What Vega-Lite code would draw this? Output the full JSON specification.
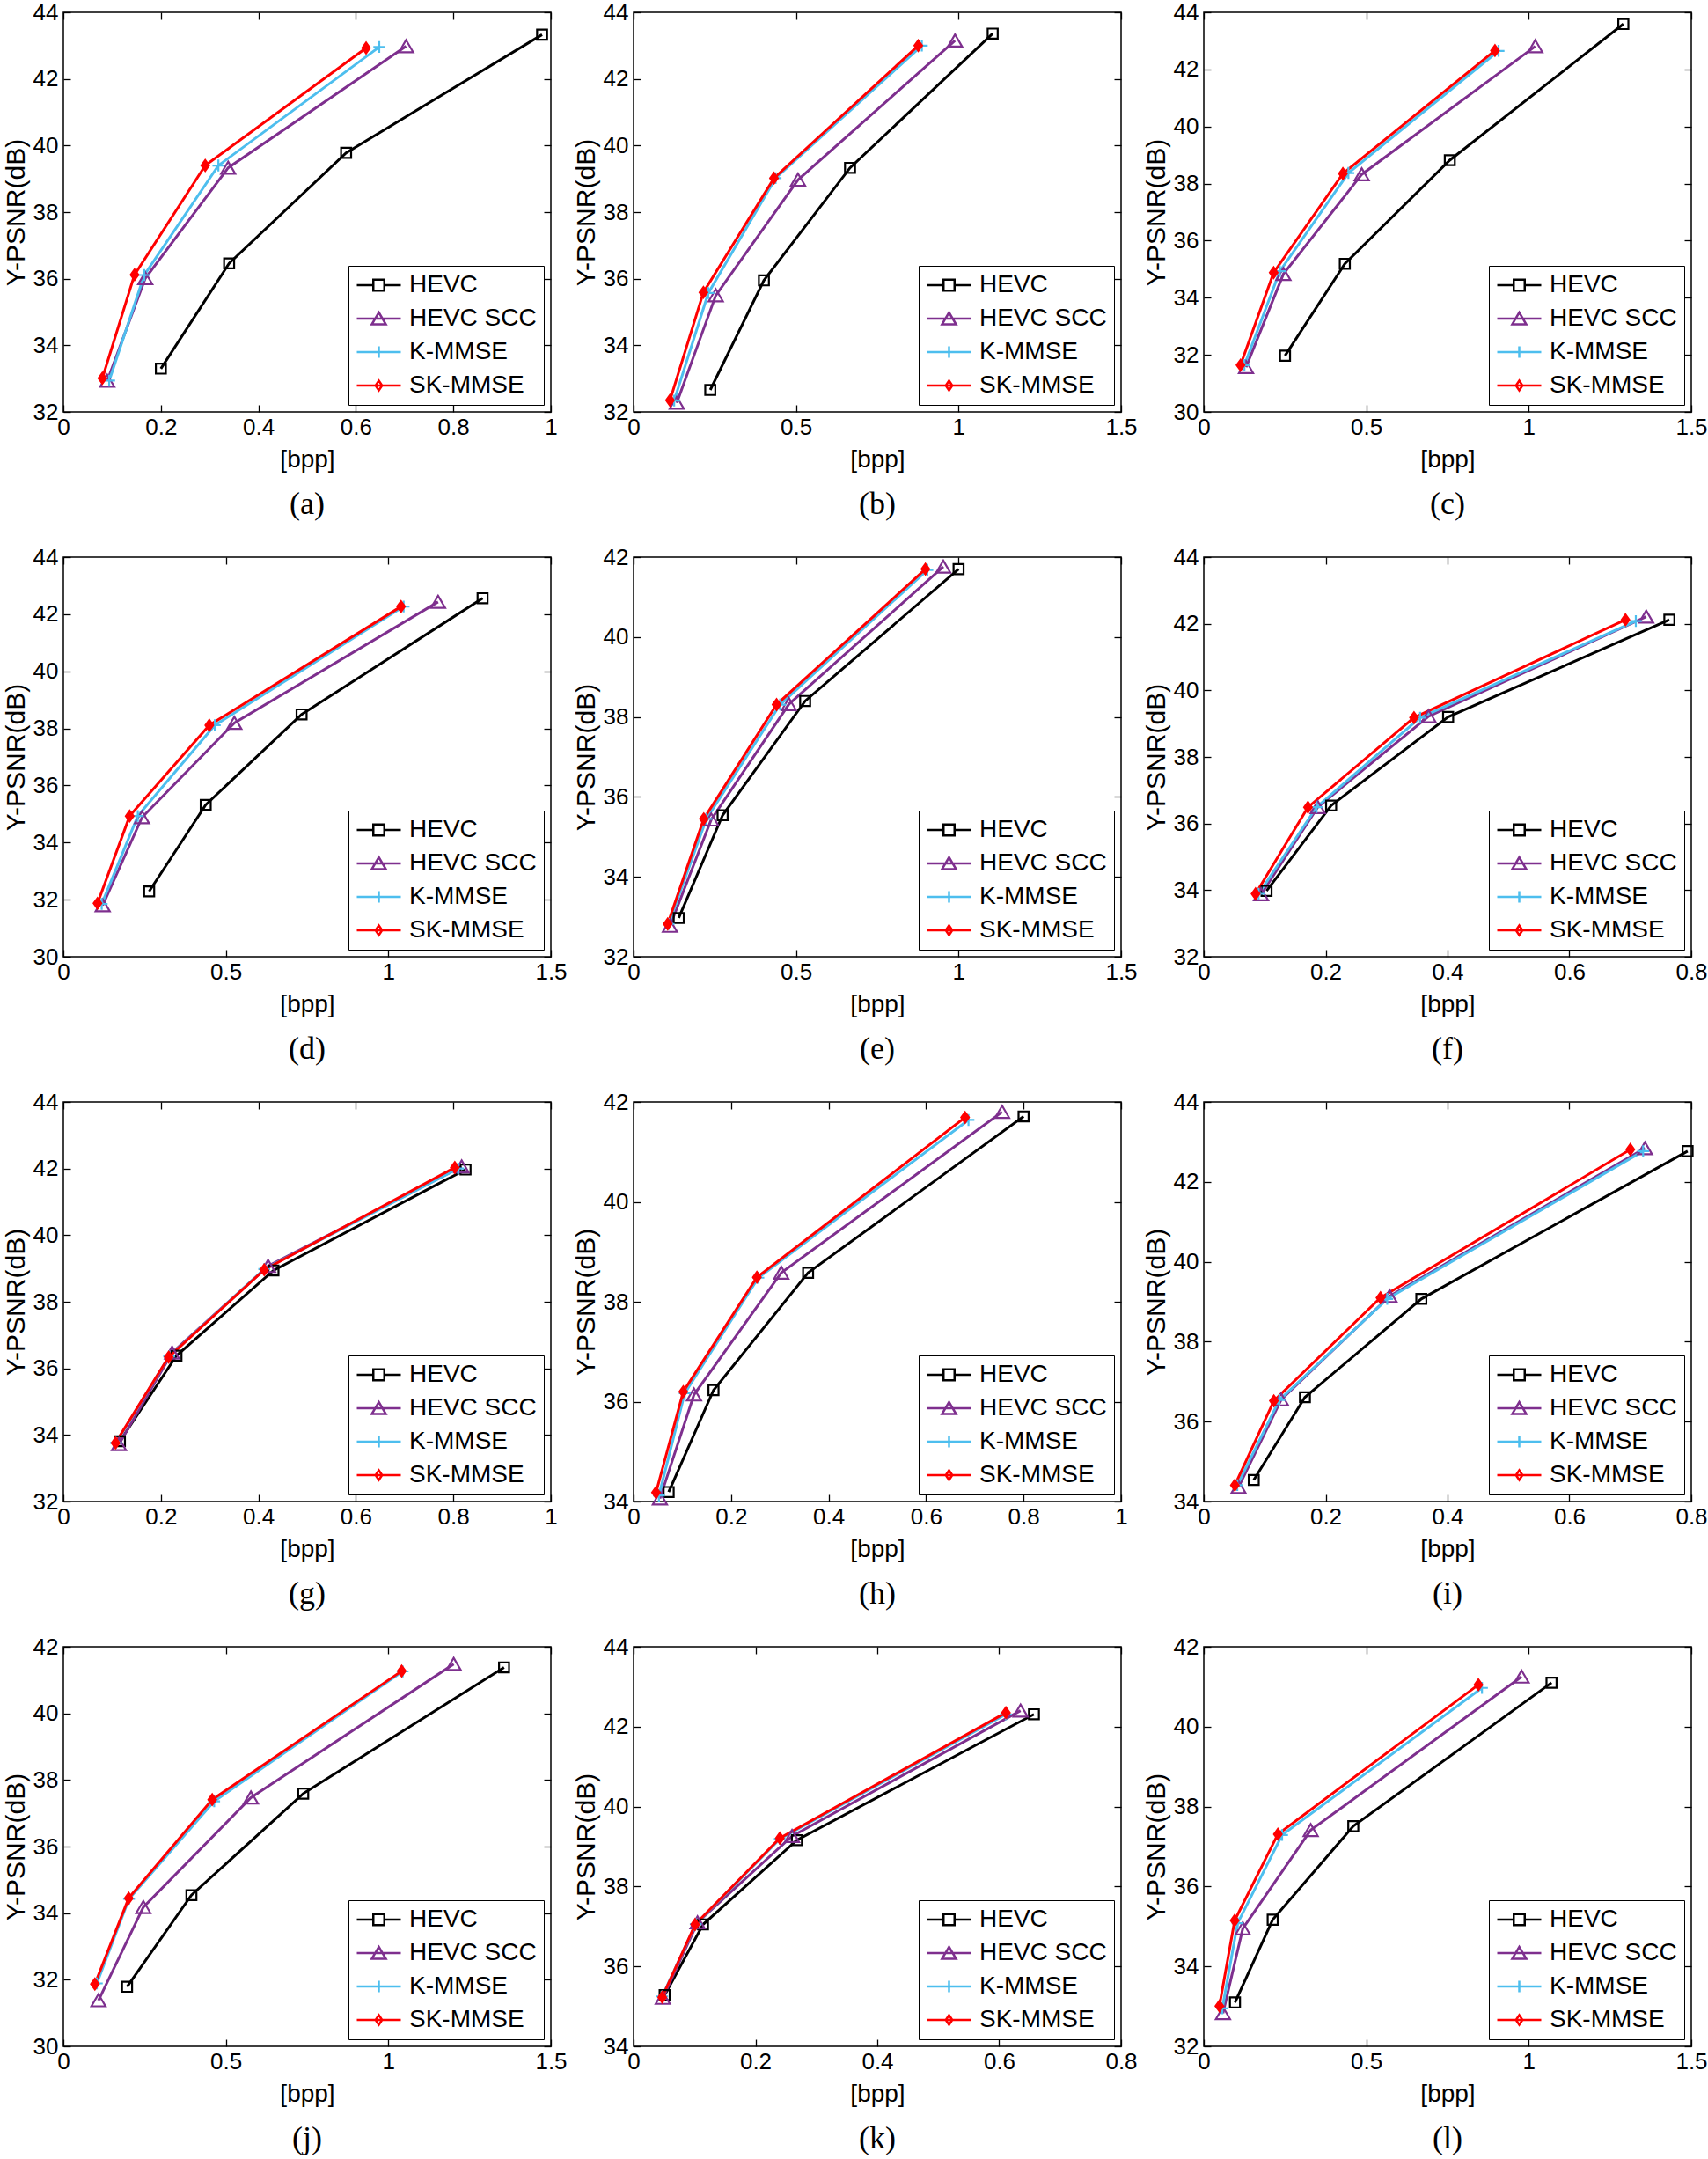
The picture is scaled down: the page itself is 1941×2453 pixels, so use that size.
{
"$schema": "https://vega.github.io/schema/vega-lite/v6.json",
"background": "white",
"padding": {"left": 2, "top": 0, "right": 0, "bottom": 0},
"datasets": {"rd": [
{"p":"a","m":"HEVC","x":0.200,"y":33.30},{"p":"a","m":"HEVC","x":0.340,"y":36.46},{"p":"a","m":"HEVC","x":0.580,"y":39.78},{"p":"a","m":"HEVC","x":0.982,"y":43.33},
{"p":"a","m":"HEVC SCC","x":0.090,"y":32.93},{"p":"a","m":"HEVC SCC","x":0.168,"y":36.01},{"p":"a","m":"HEVC SCC","x":0.338,"y":39.33},{"p":"a","m":"HEVC SCC","x":0.703,"y":42.98},
{"p":"a","m":"K-MMSE","x":0.094,"y":32.94},{"p":"a","m":"K-MMSE","x":0.166,"y":36.11},{"p":"a","m":"K-MMSE","x":0.318,"y":39.40},{"p":"a","m":"K-MMSE","x":0.648,"y":42.96},
{"p":"a","m":"SK-MMSE","x":0.080,"y":33.01},{"p":"a","m":"SK-MMSE","x":0.146,"y":36.12},{"p":"a","m":"SK-MMSE","x":0.291,"y":39.40},{"p":"a","m":"SK-MMSE","x":0.621,"y":42.93},
{"p":"b","m":"HEVC","x":0.236,"y":32.66},{"p":"b","m":"HEVC","x":0.401,"y":35.95},{"p":"b","m":"HEVC","x":0.666,"y":39.33},{"p":"b","m":"HEVC","x":1.105,"y":43.36},
{"p":"b","m":"HEVC SCC","x":0.133,"y":32.27},{"p":"b","m":"HEVC SCC","x":0.253,"y":35.50},{"p":"b","m":"HEVC SCC","x":0.506,"y":38.97},{"p":"b","m":"HEVC SCC","x":0.989,"y":43.15},
{"p":"b","m":"K-MMSE","x":0.125,"y":32.34},{"p":"b","m":"K-MMSE","x":0.230,"y":35.57},{"p":"b","m":"K-MMSE","x":0.437,"y":39.02},{"p":"b","m":"K-MMSE","x":0.887,"y":43.00},
{"p":"b","m":"SK-MMSE","x":0.112,"y":32.35},{"p":"b","m":"SK-MMSE","x":0.215,"y":35.59},{"p":"b","m":"SK-MMSE","x":0.432,"y":39.02},{"p":"b","m":"SK-MMSE","x":0.876,"y":43.00},
{"p":"c","m":"HEVC","x":0.250,"y":31.97},{"p":"c","m":"HEVC","x":0.434,"y":35.19},{"p":"c","m":"HEVC","x":0.757,"y":38.82},{"p":"c","m":"HEVC","x":1.291,"y":43.59},
{"p":"c","m":"HEVC SCC","x":0.130,"y":31.57},{"p":"c","m":"HEVC SCC","x":0.245,"y":34.83},{"p":"c","m":"HEVC SCC","x":0.486,"y":38.32},{"p":"c","m":"HEVC SCC","x":1.020,"y":42.81},
{"p":"c","m":"K-MMSE","x":0.125,"y":31.64},{"p":"c","m":"K-MMSE","x":0.234,"y":34.93},{"p":"c","m":"K-MMSE","x":0.445,"y":38.37},{"p":"c","m":"K-MMSE","x":0.907,"y":42.65},
{"p":"c","m":"SK-MMSE","x":0.113,"y":31.64},{"p":"c","m":"SK-MMSE","x":0.215,"y":34.88},{"p":"c","m":"SK-MMSE","x":0.428,"y":38.35},{"p":"c","m":"SK-MMSE","x":0.896,"y":42.66},
{"p":"d","m":"HEVC","x":0.264,"y":32.29},{"p":"d","m":"HEVC","x":0.438,"y":35.32},{"p":"d","m":"HEVC","x":0.733,"y":38.49},{"p":"d","m":"HEVC","x":1.290,"y":42.56},
{"p":"d","m":"HEVC SCC","x":0.121,"y":31.80},{"p":"d","m":"HEVC SCC","x":0.242,"y":34.88},{"p":"d","m":"HEVC SCC","x":0.526,"y":38.19},{"p":"d","m":"HEVC SCC","x":1.153,"y":42.43},
{"p":"d","m":"K-MMSE","x":0.118,"y":31.85},{"p":"d","m":"K-MMSE","x":0.229,"y":34.93},{"p":"d","m":"K-MMSE","x":0.466,"y":38.11},{"p":"d","m":"K-MMSE","x":1.047,"y":42.27},
{"p":"d","m":"SK-MMSE","x":0.105,"y":31.87},{"p":"d","m":"SK-MMSE","x":0.204,"y":34.93},{"p":"d","m":"SK-MMSE","x":0.449,"y":38.11},{"p":"d","m":"SK-MMSE","x":1.039,"y":42.27},
{"p":"e","m":"HEVC","x":0.139,"y":32.97},{"p":"e","m":"HEVC","x":0.274,"y":35.54},{"p":"e","m":"HEVC","x":0.528,"y":38.40},{"p":"e","m":"HEVC","x":1.000,"y":41.70},
{"p":"e","m":"HEVC SCC","x":0.112,"y":32.77},{"p":"e","m":"HEVC SCC","x":0.239,"y":35.43},{"p":"e","m":"HEVC SCC","x":0.478,"y":38.32},{"p":"e","m":"HEVC SCC","x":0.953,"y":41.76},
{"p":"e","m":"K-MMSE","x":0.108,"y":32.82},{"p":"e","m":"K-MMSE","x":0.224,"y":35.45},{"p":"e","m":"K-MMSE","x":0.451,"y":38.31},{"p":"e","m":"K-MMSE","x":0.904,"y":41.68},
{"p":"e","m":"SK-MMSE","x":0.105,"y":32.82},{"p":"e","m":"SK-MMSE","x":0.216,"y":35.45},{"p":"e","m":"SK-MMSE","x":0.440,"y":38.31},{"p":"e","m":"SK-MMSE","x":0.898,"y":41.70},
{"p":"f","m":"HEVC","x":0.103,"y":33.98},{"p":"f","m":"HEVC","x":0.209,"y":36.54},{"p":"f","m":"HEVC","x":0.401,"y":39.20},{"p":"f","m":"HEVC","x":0.764,"y":42.12},
{"p":"f","m":"HEVC SCC","x":0.094,"y":33.87},{"p":"f","m":"HEVC SCC","x":0.187,"y":36.49},{"p":"f","m":"HEVC SCC","x":0.369,"y":39.22},{"p":"f","m":"HEVC SCC","x":0.726,"y":42.21},
{"p":"f","m":"K-MMSE","x":0.090,"y":33.89},{"p":"f","m":"K-MMSE","x":0.185,"y":36.49},{"p":"f","m":"K-MMSE","x":0.355,"y":39.18},{"p":"f","m":"K-MMSE","x":0.709,"y":42.08},
{"p":"f","m":"SK-MMSE","x":0.085,"y":33.89},{"p":"f","m":"SK-MMSE","x":0.171,"y":36.49},{"p":"f","m":"SK-MMSE","x":0.345,"y":39.18},{"p":"f","m":"SK-MMSE","x":0.692,"y":42.12},
{"p":"g","m":"HEVC","x":0.116,"y":33.81},{"p":"g","m":"HEVC","x":0.232,"y":36.38},{"p":"g","m":"HEVC","x":0.431,"y":38.94},{"p":"g","m":"HEVC","x":0.825,"y":41.97},
{"p":"g","m":"HEVC SCC","x":0.114,"y":33.72},{"p":"g","m":"HEVC SCC","x":0.223,"y":36.47},{"p":"g","m":"HEVC SCC","x":0.420,"y":39.07},{"p":"g","m":"HEVC SCC","x":0.817,"y":42.06},
{"p":"g","m":"K-MMSE","x":0.108,"y":33.76},{"p":"g","m":"K-MMSE","x":0.217,"y":36.36},{"p":"g","m":"K-MMSE","x":0.412,"y":38.98},{"p":"g","m":"K-MMSE","x":0.810,"y":42.00},
{"p":"g","m":"SK-MMSE","x":0.107,"y":33.76},{"p":"g","m":"SK-MMSE","x":0.216,"y":36.34},{"p":"g","m":"SK-MMSE","x":0.412,"y":38.96},{"p":"g","m":"SK-MMSE","x":0.803,"y":42.03},
{"p":"h","m":"HEVC","x":0.072,"y":34.19},{"p":"h","m":"HEVC","x":0.164,"y":36.23},{"p":"h","m":"HEVC","x":0.358,"y":38.58},{"p":"h","m":"HEVC","x":0.800,"y":41.71},
{"p":"h","m":"HEVC SCC","x":0.054,"y":34.06},{"p":"h","m":"HEVC SCC","x":0.124,"y":36.14},{"p":"h","m":"HEVC SCC","x":0.303,"y":38.58},{"p":"h","m":"HEVC SCC","x":0.756,"y":41.80},
{"p":"h","m":"K-MMSE","x":0.052,"y":34.12},{"p":"h","m":"K-MMSE","x":0.105,"y":36.17},{"p":"h","m":"K-MMSE","x":0.256,"y":38.48},{"p":"h","m":"K-MMSE","x":0.687,"y":41.64},
{"p":"h","m":"SK-MMSE","x":0.046,"y":34.18},{"p":"h","m":"SK-MMSE","x":0.102,"y":36.20},{"p":"h","m":"SK-MMSE","x":0.253,"y":38.49},{"p":"h","m":"SK-MMSE","x":0.680,"y":41.69},
{"p":"i","m":"HEVC","x":0.082,"y":34.54},{"p":"i","m":"HEVC","x":0.166,"y":36.61},{"p":"i","m":"HEVC","x":0.357,"y":39.07},{"p":"i","m":"HEVC","x":0.794,"y":42.77},
{"p":"i","m":"HEVC SCC","x":0.057,"y":34.36},{"p":"i","m":"HEVC SCC","x":0.127,"y":36.55},{"p":"i","m":"HEVC SCC","x":0.305,"y":39.14},{"p":"i","m":"HEVC SCC","x":0.724,"y":42.84},
{"p":"i","m":"K-MMSE","x":0.055,"y":34.41},{"p":"i","m":"K-MMSE","x":0.124,"y":36.54},{"p":"i","m":"K-MMSE","x":0.301,"y":39.07},{"p":"i","m":"K-MMSE","x":0.721,"y":42.77},
{"p":"i","m":"SK-MMSE","x":0.051,"y":34.41},{"p":"i","m":"SK-MMSE","x":0.115,"y":36.52},{"p":"i","m":"SK-MMSE","x":0.290,"y":39.10},{"p":"i","m":"SK-MMSE","x":0.700,"y":42.81},
{"p":"j","m":"HEVC","x":0.196,"y":31.79},{"p":"j","m":"HEVC","x":0.394,"y":34.54},{"p":"j","m":"HEVC","x":0.738,"y":37.59},{"p":"j","m":"HEVC","x":1.356,"y":41.38},
{"p":"j","m":"HEVC SCC","x":0.108,"y":31.38},{"p":"j","m":"HEVC SCC","x":0.246,"y":34.18},{"p":"j","m":"HEVC SCC","x":0.577,"y":37.47},{"p":"j","m":"HEVC SCC","x":1.201,"y":41.48},
{"p":"j","m":"K-MMSE","x":0.103,"y":31.89},{"p":"j","m":"K-MMSE","x":0.202,"y":34.43},{"p":"j","m":"K-MMSE","x":0.464,"y":37.36},{"p":"j","m":"K-MMSE","x":1.044,"y":41.26},
{"p":"j","m":"SK-MMSE","x":0.097,"y":31.87},{"p":"j","m":"SK-MMSE","x":0.201,"y":34.45},{"p":"j","m":"SK-MMSE","x":0.458,"y":37.41},{"p":"j","m":"SK-MMSE","x":1.041,"y":41.27},
{"p":"k","m":"HEVC","x":0.051,"y":35.28},{"p":"k","m":"HEVC","x":0.114,"y":37.05},{"p":"k","m":"HEVC","x":0.268,"y":39.16},{"p":"k","m":"HEVC","x":0.657,"y":42.31},
{"p":"k","m":"HEVC SCC","x":0.048,"y":35.21},{"p":"k","m":"HEVC SCC","x":0.105,"y":37.10},{"p":"k","m":"HEVC SCC","x":0.260,"y":39.26},{"p":"k","m":"HEVC SCC","x":0.635,"y":42.40},
{"p":"k","m":"K-MMSE","x":0.047,"y":35.25},{"p":"k","m":"K-MMSE","x":0.102,"y":37.06},{"p":"k","m":"K-MMSE","x":0.240,"y":39.19},{"p":"k","m":"K-MMSE","x":0.611,"y":42.31},
{"p":"k","m":"SK-MMSE","x":0.047,"y":35.23},{"p":"k","m":"SK-MMSE","x":0.101,"y":37.05},{"p":"k","m":"SK-MMSE","x":0.240,"y":39.21},{"p":"k","m":"SK-MMSE","x":0.611,"y":42.35},
{"p":"l","m":"HEVC","x":0.096,"y":33.10},{"p":"l","m":"HEVC","x":0.212,"y":35.17},{"p":"l","m":"HEVC","x":0.460,"y":37.51},{"p":"l","m":"HEVC","x":1.070,"y":41.10},
{"p":"l","m":"HEVC SCC","x":0.059,"y":32.83},{"p":"l","m":"HEVC SCC","x":0.120,"y":34.95},{"p":"l","m":"HEVC SCC","x":0.329,"y":37.41},{"p":"l","m":"HEVC SCC","x":0.978,"y":41.25},
{"p":"l","m":"K-MMSE","x":0.057,"y":32.95},{"p":"l","m":"K-MMSE","x":0.104,"y":35.08},{"p":"l","m":"K-MMSE","x":0.241,"y":37.29},{"p":"l","m":"K-MMSE","x":0.856,"y":40.97},
{"p":"l","m":"SK-MMSE","x":0.048,"y":33.01},{"p":"l","m":"SK-MMSE","x":0.095,"y":35.15},{"p":"l","m":"SK-MMSE","x":0.228,"y":37.31},{"p":"l","m":"SK-MMSE","x":0.845,"y":41.05}
]},
"columns": 3,
"spacing": {"row": 27, "column": 5},
"resolve": {"scale": {"stroke": "independent", "fill": "independent", "shape": "independent"}},
"concat": [
{"width":554,"height":454,"title":"(a)","data":{"name":"rd"},"transform":[{"filter":"datum.p=='a'"}],
"layer":[
{"mark":{"type":"line","strokeWidth":3},"encoding":{
"x":{"field":"x","type":"quantitative","scale":{"domain":[0,1],"nice":false,"zero":false},"axis":{"values":[0,0.2,0.4,0.6,0.8,1],"title":"[bpp]"}},
"y":{"field":"y","type":"quantitative","scale":{"domain":[32,44],"nice":false,"zero":false},"axis":{"values":[32,34,36,38,40,42,44],"title":"Y-PSNR(dB)"}},
"stroke":{"field":"m","type":"nominal","scale":{"domain":["HEVC","HEVC SCC","K-MMSE","SK-MMSE"],"range":["#000000","#7E2F8E","#4DBEEE","#FF0000"]},"legend":null}}},
{"mark":{"type":"point","filled":true,"strokeWidth":2.2,"size":180,"opacity":1},"encoding":{
"x":{"field":"x","type":"quantitative","axis":null},"y":{"field":"y","type":"quantitative","axis":null},
"stroke":{"field":"m","type":"nominal","scale":{"domain":["HEVC","HEVC SCC","K-MMSE","SK-MMSE"],"range":["#000000","#7E2F8E","#4DBEEE","#FF0000"]},"legend":null},
"fill":{"field":"m","type":"nominal","scale":{"domain":["HEVC","HEVC SCC","K-MMSE","SK-MMSE"],"range":["transparent","transparent","transparent","#FF0000"]},"legend":null},
"shape":{"field":"m","type":"nominal","scale":{"domain":["HEVC","HEVC SCC","K-MMSE","SK-MMSE"],"range":["M-0.85,-0.85H0.85V0.85H-0.85Z","M0,-1.05L1.2,1L-1.2,1Z","M-1,0H1M0,-1V1","M0,-0.9L0.65,0L0,0.9L-0.65,0Z"]},"legend":null}}},
{"transform":[{"filter":"datum.x<0"}],"mark":{"type":"point","filled":false,"strokeWidth":2.5,"size":2500,"opacity":1},"encoding":{
"x":{"field":"x","type":"quantitative","axis":{"orient":"top","labels":false,"title":null,"values":[0,0.2,0.4,0.6,0.8,1]}},
"y":{"field":"y","type":"quantitative","axis":{"orient":"right","labels":false,"title":null,"values":[32,34,36,38,40,42,44]}},
"stroke":{"field":"m","type":"nominal","scale":{"domain":["HEVC","HEVC SCC","K-MMSE","SK-MMSE"],"range":["#000000","#7E2F8E","#4DBEEE","#FF0000"]},"legend":{"title":null}},
"shape":{"field":"m","type":"nominal","scale":{"domain":["HEVC","HEVC SCC","K-MMSE","SK-MMSE"],"range":["M-1,0H-0.25M0.25,0H1M-0.25,-0.25H0.25V0.25H-0.25Z","M-1,0H1M0,-0.28L0.32,0.26H-0.32Z","M-1,0H1M0,-0.26V0.26","M-1,0H1M0,-0.22L0.15,0L0,0.22L-0.15,0Z"]},"legend":{"title":null}}}}
],
"resolve":{"scale":{"stroke":"independent","fill":"independent","shape":"independent"},"axis":{"x":"independent","y":"independent"}}},

{"width":554,"height":454,"title":"(b)","data":{"name":"rd"},"transform":[{"filter":"datum.p=='b'"}],
"layer":[
{"mark":{"type":"line","strokeWidth":3},"encoding":{
"x":{"field":"x","type":"quantitative","scale":{"domain":[0,1.5],"nice":false,"zero":false},"axis":{"values":[0,0.5,1,1.5],"title":"[bpp]"}},
"y":{"field":"y","type":"quantitative","scale":{"domain":[32,44],"nice":false,"zero":false},"axis":{"values":[32,34,36,38,40,42,44],"title":"Y-PSNR(dB)"}},
"stroke":{"field":"m","type":"nominal","scale":{"domain":["HEVC","HEVC SCC","K-MMSE","SK-MMSE"],"range":["#000000","#7E2F8E","#4DBEEE","#FF0000"]},"legend":null}}},
{"mark":{"type":"point","filled":true,"strokeWidth":2.2,"size":180,"opacity":1},"encoding":{
"x":{"field":"x","type":"quantitative","axis":null},"y":{"field":"y","type":"quantitative","axis":null},
"stroke":{"field":"m","type":"nominal","scale":{"domain":["HEVC","HEVC SCC","K-MMSE","SK-MMSE"],"range":["#000000","#7E2F8E","#4DBEEE","#FF0000"]},"legend":null},
"fill":{"field":"m","type":"nominal","scale":{"domain":["HEVC","HEVC SCC","K-MMSE","SK-MMSE"],"range":["transparent","transparent","transparent","#FF0000"]},"legend":null},
"shape":{"field":"m","type":"nominal","scale":{"domain":["HEVC","HEVC SCC","K-MMSE","SK-MMSE"],"range":["M-0.85,-0.85H0.85V0.85H-0.85Z","M0,-1.05L1.2,1L-1.2,1Z","M-1,0H1M0,-1V1","M0,-0.9L0.65,0L0,0.9L-0.65,0Z"]},"legend":null}}},
{"transform":[{"filter":"datum.x<0"}],"mark":{"type":"point","filled":false,"strokeWidth":2.5,"size":2500,"opacity":1},"encoding":{
"x":{"field":"x","type":"quantitative","axis":{"orient":"top","labels":false,"title":null,"values":[0,0.5,1,1.5]}},
"y":{"field":"y","type":"quantitative","axis":{"orient":"right","labels":false,"title":null,"values":[32,34,36,38,40,42,44]}},
"stroke":{"field":"m","type":"nominal","scale":{"domain":["HEVC","HEVC SCC","K-MMSE","SK-MMSE"],"range":["#000000","#7E2F8E","#4DBEEE","#FF0000"]},"legend":{"title":null}},
"shape":{"field":"m","type":"nominal","scale":{"domain":["HEVC","HEVC SCC","K-MMSE","SK-MMSE"],"range":["M-1,0H-0.25M0.25,0H1M-0.25,-0.25H0.25V0.25H-0.25Z","M-1,0H1M0,-0.28L0.32,0.26H-0.32Z","M-1,0H1M0,-0.26V0.26","M-1,0H1M0,-0.22L0.15,0L0,0.22L-0.15,0Z"]},"legend":{"title":null}}}}
],
"resolve":{"scale":{"stroke":"independent","fill":"independent","shape":"independent"},"axis":{"x":"independent","y":"independent"}}},

{"width":554,"height":454,"title":"(c)","data":{"name":"rd"},"transform":[{"filter":"datum.p=='c'"}],
"layer":[
{"mark":{"type":"line","strokeWidth":3},"encoding":{
"x":{"field":"x","type":"quantitative","scale":{"domain":[0,1.5],"nice":false,"zero":false},"axis":{"values":[0,0.5,1,1.5],"title":"[bpp]"}},
"y":{"field":"y","type":"quantitative","scale":{"domain":[30,44],"nice":false,"zero":false},"axis":{"values":[30,32,34,36,38,40,42,44],"title":"Y-PSNR(dB)"}},
"stroke":{"field":"m","type":"nominal","scale":{"domain":["HEVC","HEVC SCC","K-MMSE","SK-MMSE"],"range":["#000000","#7E2F8E","#4DBEEE","#FF0000"]},"legend":null}}},
{"mark":{"type":"point","filled":true,"strokeWidth":2.2,"size":180,"opacity":1},"encoding":{
"x":{"field":"x","type":"quantitative","axis":null},"y":{"field":"y","type":"quantitative","axis":null},
"stroke":{"field":"m","type":"nominal","scale":{"domain":["HEVC","HEVC SCC","K-MMSE","SK-MMSE"],"range":["#000000","#7E2F8E","#4DBEEE","#FF0000"]},"legend":null},
"fill":{"field":"m","type":"nominal","scale":{"domain":["HEVC","HEVC SCC","K-MMSE","SK-MMSE"],"range":["transparent","transparent","transparent","#FF0000"]},"legend":null},
"shape":{"field":"m","type":"nominal","scale":{"domain":["HEVC","HEVC SCC","K-MMSE","SK-MMSE"],"range":["M-0.85,-0.85H0.85V0.85H-0.85Z","M0,-1.05L1.2,1L-1.2,1Z","M-1,0H1M0,-1V1","M0,-0.9L0.65,0L0,0.9L-0.65,0Z"]},"legend":null}}},
{"transform":[{"filter":"datum.x<0"}],"mark":{"type":"point","filled":false,"strokeWidth":2.5,"size":2500,"opacity":1},"encoding":{
"x":{"field":"x","type":"quantitative","axis":{"orient":"top","labels":false,"title":null,"values":[0,0.5,1,1.5]}},
"y":{"field":"y","type":"quantitative","axis":{"orient":"right","labels":false,"title":null,"values":[30,32,34,36,38,40,42,44]}},
"stroke":{"field":"m","type":"nominal","scale":{"domain":["HEVC","HEVC SCC","K-MMSE","SK-MMSE"],"range":["#000000","#7E2F8E","#4DBEEE","#FF0000"]},"legend":{"title":null}},
"shape":{"field":"m","type":"nominal","scale":{"domain":["HEVC","HEVC SCC","K-MMSE","SK-MMSE"],"range":["M-1,0H-0.25M0.25,0H1M-0.25,-0.25H0.25V0.25H-0.25Z","M-1,0H1M0,-0.28L0.32,0.26H-0.32Z","M-1,0H1M0,-0.26V0.26","M-1,0H1M0,-0.22L0.15,0L0,0.22L-0.15,0Z"]},"legend":{"title":null}}}}
],
"resolve":{"scale":{"stroke":"independent","fill":"independent","shape":"independent"},"axis":{"x":"independent","y":"independent"}}},

{"width":554,"height":454,"title":"(d)","data":{"name":"rd"},"transform":[{"filter":"datum.p=='d'"}],
"layer":[
{"mark":{"type":"line","strokeWidth":3},"encoding":{
"x":{"field":"x","type":"quantitative","scale":{"domain":[0,1.5],"nice":false,"zero":false},"axis":{"values":[0,0.5,1,1.5],"title":"[bpp]"}},
"y":{"field":"y","type":"quantitative","scale":{"domain":[30,44],"nice":false,"zero":false},"axis":{"values":[30,32,34,36,38,40,42,44],"title":"Y-PSNR(dB)"}},
"stroke":{"field":"m","type":"nominal","scale":{"domain":["HEVC","HEVC SCC","K-MMSE","SK-MMSE"],"range":["#000000","#7E2F8E","#4DBEEE","#FF0000"]},"legend":null}}},
{"mark":{"type":"point","filled":true,"strokeWidth":2.2,"size":180,"opacity":1},"encoding":{
"x":{"field":"x","type":"quantitative","axis":null},"y":{"field":"y","type":"quantitative","axis":null},
"stroke":{"field":"m","type":"nominal","scale":{"domain":["HEVC","HEVC SCC","K-MMSE","SK-MMSE"],"range":["#000000","#7E2F8E","#4DBEEE","#FF0000"]},"legend":null},
"fill":{"field":"m","type":"nominal","scale":{"domain":["HEVC","HEVC SCC","K-MMSE","SK-MMSE"],"range":["transparent","transparent","transparent","#FF0000"]},"legend":null},
"shape":{"field":"m","type":"nominal","scale":{"domain":["HEVC","HEVC SCC","K-MMSE","SK-MMSE"],"range":["M-0.85,-0.85H0.85V0.85H-0.85Z","M0,-1.05L1.2,1L-1.2,1Z","M-1,0H1M0,-1V1","M0,-0.9L0.65,0L0,0.9L-0.65,0Z"]},"legend":null}}},
{"transform":[{"filter":"datum.x<0"}],"mark":{"type":"point","filled":false,"strokeWidth":2.5,"size":2500,"opacity":1},"encoding":{
"x":{"field":"x","type":"quantitative","axis":{"orient":"top","labels":false,"title":null,"values":[0,0.5,1,1.5]}},
"y":{"field":"y","type":"quantitative","axis":{"orient":"right","labels":false,"title":null,"values":[30,32,34,36,38,40,42,44]}},
"stroke":{"field":"m","type":"nominal","scale":{"domain":["HEVC","HEVC SCC","K-MMSE","SK-MMSE"],"range":["#000000","#7E2F8E","#4DBEEE","#FF0000"]},"legend":{"title":null}},
"shape":{"field":"m","type":"nominal","scale":{"domain":["HEVC","HEVC SCC","K-MMSE","SK-MMSE"],"range":["M-1,0H-0.25M0.25,0H1M-0.25,-0.25H0.25V0.25H-0.25Z","M-1,0H1M0,-0.28L0.32,0.26H-0.32Z","M-1,0H1M0,-0.26V0.26","M-1,0H1M0,-0.22L0.15,0L0,0.22L-0.15,0Z"]},"legend":{"title":null}}}}
],
"resolve":{"scale":{"stroke":"independent","fill":"independent","shape":"independent"},"axis":{"x":"independent","y":"independent"}}},

{"width":554,"height":454,"title":"(e)","data":{"name":"rd"},"transform":[{"filter":"datum.p=='e'"}],
"layer":[
{"mark":{"type":"line","strokeWidth":3},"encoding":{
"x":{"field":"x","type":"quantitative","scale":{"domain":[0,1.5],"nice":false,"zero":false},"axis":{"values":[0,0.5,1,1.5],"title":"[bpp]"}},
"y":{"field":"y","type":"quantitative","scale":{"domain":[32,42],"nice":false,"zero":false},"axis":{"values":[32,34,36,38,40,42],"title":"Y-PSNR(dB)"}},
"stroke":{"field":"m","type":"nominal","scale":{"domain":["HEVC","HEVC SCC","K-MMSE","SK-MMSE"],"range":["#000000","#7E2F8E","#4DBEEE","#FF0000"]},"legend":null}}},
{"mark":{"type":"point","filled":true,"strokeWidth":2.2,"size":180,"opacity":1},"encoding":{
"x":{"field":"x","type":"quantitative","axis":null},"y":{"field":"y","type":"quantitative","axis":null},
"stroke":{"field":"m","type":"nominal","scale":{"domain":["HEVC","HEVC SCC","K-MMSE","SK-MMSE"],"range":["#000000","#7E2F8E","#4DBEEE","#FF0000"]},"legend":null},
"fill":{"field":"m","type":"nominal","scale":{"domain":["HEVC","HEVC SCC","K-MMSE","SK-MMSE"],"range":["transparent","transparent","transparent","#FF0000"]},"legend":null},
"shape":{"field":"m","type":"nominal","scale":{"domain":["HEVC","HEVC SCC","K-MMSE","SK-MMSE"],"range":["M-0.85,-0.85H0.85V0.85H-0.85Z","M0,-1.05L1.2,1L-1.2,1Z","M-1,0H1M0,-1V1","M0,-0.9L0.65,0L0,0.9L-0.65,0Z"]},"legend":null}}},
{"transform":[{"filter":"datum.x<0"}],"mark":{"type":"point","filled":false,"strokeWidth":2.5,"size":2500,"opacity":1},"encoding":{
"x":{"field":"x","type":"quantitative","axis":{"orient":"top","labels":false,"title":null,"values":[0,0.5,1,1.5]}},
"y":{"field":"y","type":"quantitative","axis":{"orient":"right","labels":false,"title":null,"values":[32,34,36,38,40,42]}},
"stroke":{"field":"m","type":"nominal","scale":{"domain":["HEVC","HEVC SCC","K-MMSE","SK-MMSE"],"range":["#000000","#7E2F8E","#4DBEEE","#FF0000"]},"legend":{"title":null}},
"shape":{"field":"m","type":"nominal","scale":{"domain":["HEVC","HEVC SCC","K-MMSE","SK-MMSE"],"range":["M-1,0H-0.25M0.25,0H1M-0.25,-0.25H0.25V0.25H-0.25Z","M-1,0H1M0,-0.28L0.32,0.26H-0.32Z","M-1,0H1M0,-0.26V0.26","M-1,0H1M0,-0.22L0.15,0L0,0.22L-0.15,0Z"]},"legend":{"title":null}}}}
],
"resolve":{"scale":{"stroke":"independent","fill":"independent","shape":"independent"},"axis":{"x":"independent","y":"independent"}}},

{"width":554,"height":454,"title":"(f)","data":{"name":"rd"},"transform":[{"filter":"datum.p=='f'"}],
"layer":[
{"mark":{"type":"line","strokeWidth":3},"encoding":{
"x":{"field":"x","type":"quantitative","scale":{"domain":[0,0.8],"nice":false,"zero":false},"axis":{"values":[0,0.2,0.4,0.6,0.8],"title":"[bpp]"}},
"y":{"field":"y","type":"quantitative","scale":{"domain":[32,44],"nice":false,"zero":false},"axis":{"values":[32,34,36,38,40,42,44],"title":"Y-PSNR(dB)"}},
"stroke":{"field":"m","type":"nominal","scale":{"domain":["HEVC","HEVC SCC","K-MMSE","SK-MMSE"],"range":["#000000","#7E2F8E","#4DBEEE","#FF0000"]},"legend":null}}},
{"mark":{"type":"point","filled":true,"strokeWidth":2.2,"size":180,"opacity":1},"encoding":{
"x":{"field":"x","type":"quantitative","axis":null},"y":{"field":"y","type":"quantitative","axis":null},
"stroke":{"field":"m","type":"nominal","scale":{"domain":["HEVC","HEVC SCC","K-MMSE","SK-MMSE"],"range":["#000000","#7E2F8E","#4DBEEE","#FF0000"]},"legend":null},
"fill":{"field":"m","type":"nominal","scale":{"domain":["HEVC","HEVC SCC","K-MMSE","SK-MMSE"],"range":["transparent","transparent","transparent","#FF0000"]},"legend":null},
"shape":{"field":"m","type":"nominal","scale":{"domain":["HEVC","HEVC SCC","K-MMSE","SK-MMSE"],"range":["M-0.85,-0.85H0.85V0.85H-0.85Z","M0,-1.05L1.2,1L-1.2,1Z","M-1,0H1M0,-1V1","M0,-0.9L0.65,0L0,0.9L-0.65,0Z"]},"legend":null}}},
{"transform":[{"filter":"datum.x<0"}],"mark":{"type":"point","filled":false,"strokeWidth":2.5,"size":2500,"opacity":1},"encoding":{
"x":{"field":"x","type":"quantitative","axis":{"orient":"top","labels":false,"title":null,"values":[0,0.2,0.4,0.6,0.8]}},
"y":{"field":"y","type":"quantitative","axis":{"orient":"right","labels":false,"title":null,"values":[32,34,36,38,40,42,44]}},
"stroke":{"field":"m","type":"nominal","scale":{"domain":["HEVC","HEVC SCC","K-MMSE","SK-MMSE"],"range":["#000000","#7E2F8E","#4DBEEE","#FF0000"]},"legend":{"title":null}},
"shape":{"field":"m","type":"nominal","scale":{"domain":["HEVC","HEVC SCC","K-MMSE","SK-MMSE"],"range":["M-1,0H-0.25M0.25,0H1M-0.25,-0.25H0.25V0.25H-0.25Z","M-1,0H1M0,-0.28L0.32,0.26H-0.32Z","M-1,0H1M0,-0.26V0.26","M-1,0H1M0,-0.22L0.15,0L0,0.22L-0.15,0Z"]},"legend":{"title":null}}}}
],
"resolve":{"scale":{"stroke":"independent","fill":"independent","shape":"independent"},"axis":{"x":"independent","y":"independent"}}},

{"width":554,"height":454,"title":"(g)","data":{"name":"rd"},"transform":[{"filter":"datum.p=='g'"}],
"layer":[
{"mark":{"type":"line","strokeWidth":3},"encoding":{
"x":{"field":"x","type":"quantitative","scale":{"domain":[0,1],"nice":false,"zero":false},"axis":{"values":[0,0.2,0.4,0.6,0.8,1],"title":"[bpp]"}},
"y":{"field":"y","type":"quantitative","scale":{"domain":[32,44],"nice":false,"zero":false},"axis":{"values":[32,34,36,38,40,42,44],"title":"Y-PSNR(dB)"}},
"stroke":{"field":"m","type":"nominal","scale":{"domain":["HEVC","HEVC SCC","K-MMSE","SK-MMSE"],"range":["#000000","#7E2F8E","#4DBEEE","#FF0000"]},"legend":null}}},
{"mark":{"type":"point","filled":true,"strokeWidth":2.2,"size":180,"opacity":1},"encoding":{
"x":{"field":"x","type":"quantitative","axis":null},"y":{"field":"y","type":"quantitative","axis":null},
"stroke":{"field":"m","type":"nominal","scale":{"domain":["HEVC","HEVC SCC","K-MMSE","SK-MMSE"],"range":["#000000","#7E2F8E","#4DBEEE","#FF0000"]},"legend":null},
"fill":{"field":"m","type":"nominal","scale":{"domain":["HEVC","HEVC SCC","K-MMSE","SK-MMSE"],"range":["transparent","transparent","transparent","#FF0000"]},"legend":null},
"shape":{"field":"m","type":"nominal","scale":{"domain":["HEVC","HEVC SCC","K-MMSE","SK-MMSE"],"range":["M-0.85,-0.85H0.85V0.85H-0.85Z","M0,-1.05L1.2,1L-1.2,1Z","M-1,0H1M0,-1V1","M0,-0.9L0.65,0L0,0.9L-0.65,0Z"]},"legend":null}}},
{"transform":[{"filter":"datum.x<0"}],"mark":{"type":"point","filled":false,"strokeWidth":2.5,"size":2500,"opacity":1},"encoding":{
"x":{"field":"x","type":"quantitative","axis":{"orient":"top","labels":false,"title":null,"values":[0,0.2,0.4,0.6,0.8,1]}},
"y":{"field":"y","type":"quantitative","axis":{"orient":"right","labels":false,"title":null,"values":[32,34,36,38,40,42,44]}},
"stroke":{"field":"m","type":"nominal","scale":{"domain":["HEVC","HEVC SCC","K-MMSE","SK-MMSE"],"range":["#000000","#7E2F8E","#4DBEEE","#FF0000"]},"legend":{"title":null}},
"shape":{"field":"m","type":"nominal","scale":{"domain":["HEVC","HEVC SCC","K-MMSE","SK-MMSE"],"range":["M-1,0H-0.25M0.25,0H1M-0.25,-0.25H0.25V0.25H-0.25Z","M-1,0H1M0,-0.28L0.32,0.26H-0.32Z","M-1,0H1M0,-0.26V0.26","M-1,0H1M0,-0.22L0.15,0L0,0.22L-0.15,0Z"]},"legend":{"title":null}}}}
],
"resolve":{"scale":{"stroke":"independent","fill":"independent","shape":"independent"},"axis":{"x":"independent","y":"independent"}}},

{"width":554,"height":454,"title":"(h)","data":{"name":"rd"},"transform":[{"filter":"datum.p=='h'"}],
"layer":[
{"mark":{"type":"line","strokeWidth":3},"encoding":{
"x":{"field":"x","type":"quantitative","scale":{"domain":[0,1],"nice":false,"zero":false},"axis":{"values":[0,0.2,0.4,0.6,0.8,1],"title":"[bpp]"}},
"y":{"field":"y","type":"quantitative","scale":{"domain":[34,42],"nice":false,"zero":false},"axis":{"values":[34,36,38,40,42],"title":"Y-PSNR(dB)"}},
"stroke":{"field":"m","type":"nominal","scale":{"domain":["HEVC","HEVC SCC","K-MMSE","SK-MMSE"],"range":["#000000","#7E2F8E","#4DBEEE","#FF0000"]},"legend":null}}},
{"mark":{"type":"point","filled":true,"strokeWidth":2.2,"size":180,"opacity":1},"encoding":{
"x":{"field":"x","type":"quantitative","axis":null},"y":{"field":"y","type":"quantitative","axis":null},
"stroke":{"field":"m","type":"nominal","scale":{"domain":["HEVC","HEVC SCC","K-MMSE","SK-MMSE"],"range":["#000000","#7E2F8E","#4DBEEE","#FF0000"]},"legend":null},
"fill":{"field":"m","type":"nominal","scale":{"domain":["HEVC","HEVC SCC","K-MMSE","SK-MMSE"],"range":["transparent","transparent","transparent","#FF0000"]},"legend":null},
"shape":{"field":"m","type":"nominal","scale":{"domain":["HEVC","HEVC SCC","K-MMSE","SK-MMSE"],"range":["M-0.85,-0.85H0.85V0.85H-0.85Z","M0,-1.05L1.2,1L-1.2,1Z","M-1,0H1M0,-1V1","M0,-0.9L0.65,0L0,0.9L-0.65,0Z"]},"legend":null}}},
{"transform":[{"filter":"datum.x<0"}],"mark":{"type":"point","filled":false,"strokeWidth":2.5,"size":2500,"opacity":1},"encoding":{
"x":{"field":"x","type":"quantitative","axis":{"orient":"top","labels":false,"title":null,"values":[0,0.2,0.4,0.6,0.8,1]}},
"y":{"field":"y","type":"quantitative","axis":{"orient":"right","labels":false,"title":null,"values":[34,36,38,40,42]}},
"stroke":{"field":"m","type":"nominal","scale":{"domain":["HEVC","HEVC SCC","K-MMSE","SK-MMSE"],"range":["#000000","#7E2F8E","#4DBEEE","#FF0000"]},"legend":{"title":null}},
"shape":{"field":"m","type":"nominal","scale":{"domain":["HEVC","HEVC SCC","K-MMSE","SK-MMSE"],"range":["M-1,0H-0.25M0.25,0H1M-0.25,-0.25H0.25V0.25H-0.25Z","M-1,0H1M0,-0.28L0.32,0.26H-0.32Z","M-1,0H1M0,-0.26V0.26","M-1,0H1M0,-0.22L0.15,0L0,0.22L-0.15,0Z"]},"legend":{"title":null}}}}
],
"resolve":{"scale":{"stroke":"independent","fill":"independent","shape":"independent"},"axis":{"x":"independent","y":"independent"}}},

{"width":554,"height":454,"title":"(i)","data":{"name":"rd"},"transform":[{"filter":"datum.p=='i'"}],
"layer":[
{"mark":{"type":"line","strokeWidth":3},"encoding":{
"x":{"field":"x","type":"quantitative","scale":{"domain":[0,0.8],"nice":false,"zero":false},"axis":{"values":[0,0.2,0.4,0.6,0.8],"title":"[bpp]"}},
"y":{"field":"y","type":"quantitative","scale":{"domain":[34,44],"nice":false,"zero":false},"axis":{"values":[34,36,38,40,42,44],"title":"Y-PSNR(dB)"}},
"stroke":{"field":"m","type":"nominal","scale":{"domain":["HEVC","HEVC SCC","K-MMSE","SK-MMSE"],"range":["#000000","#7E2F8E","#4DBEEE","#FF0000"]},"legend":null}}},
{"mark":{"type":"point","filled":true,"strokeWidth":2.2,"size":180,"opacity":1},"encoding":{
"x":{"field":"x","type":"quantitative","axis":null},"y":{"field":"y","type":"quantitative","axis":null},
"stroke":{"field":"m","type":"nominal","scale":{"domain":["HEVC","HEVC SCC","K-MMSE","SK-MMSE"],"range":["#000000","#7E2F8E","#4DBEEE","#FF0000"]},"legend":null},
"fill":{"field":"m","type":"nominal","scale":{"domain":["HEVC","HEVC SCC","K-MMSE","SK-MMSE"],"range":["transparent","transparent","transparent","#FF0000"]},"legend":null},
"shape":{"field":"m","type":"nominal","scale":{"domain":["HEVC","HEVC SCC","K-MMSE","SK-MMSE"],"range":["M-0.85,-0.85H0.85V0.85H-0.85Z","M0,-1.05L1.2,1L-1.2,1Z","M-1,0H1M0,-1V1","M0,-0.9L0.65,0L0,0.9L-0.65,0Z"]},"legend":null}}},
{"transform":[{"filter":"datum.x<0"}],"mark":{"type":"point","filled":false,"strokeWidth":2.5,"size":2500,"opacity":1},"encoding":{
"x":{"field":"x","type":"quantitative","axis":{"orient":"top","labels":false,"title":null,"values":[0,0.2,0.4,0.6,0.8]}},
"y":{"field":"y","type":"quantitative","axis":{"orient":"right","labels":false,"title":null,"values":[34,36,38,40,42,44]}},
"stroke":{"field":"m","type":"nominal","scale":{"domain":["HEVC","HEVC SCC","K-MMSE","SK-MMSE"],"range":["#000000","#7E2F8E","#4DBEEE","#FF0000"]},"legend":{"title":null}},
"shape":{"field":"m","type":"nominal","scale":{"domain":["HEVC","HEVC SCC","K-MMSE","SK-MMSE"],"range":["M-1,0H-0.25M0.25,0H1M-0.25,-0.25H0.25V0.25H-0.25Z","M-1,0H1M0,-0.28L0.32,0.26H-0.32Z","M-1,0H1M0,-0.26V0.26","M-1,0H1M0,-0.22L0.15,0L0,0.22L-0.15,0Z"]},"legend":{"title":null}}}}
],
"resolve":{"scale":{"stroke":"independent","fill":"independent","shape":"independent"},"axis":{"x":"independent","y":"independent"}}},

{"width":554,"height":454,"title":"(j)","data":{"name":"rd"},"transform":[{"filter":"datum.p=='j'"}],
"layer":[
{"mark":{"type":"line","strokeWidth":3},"encoding":{
"x":{"field":"x","type":"quantitative","scale":{"domain":[0,1.5],"nice":false,"zero":false},"axis":{"values":[0,0.5,1,1.5],"title":"[bpp]"}},
"y":{"field":"y","type":"quantitative","scale":{"domain":[30,42],"nice":false,"zero":false},"axis":{"values":[30,32,34,36,38,40,42],"title":"Y-PSNR(dB)"}},
"stroke":{"field":"m","type":"nominal","scale":{"domain":["HEVC","HEVC SCC","K-MMSE","SK-MMSE"],"range":["#000000","#7E2F8E","#4DBEEE","#FF0000"]},"legend":null}}},
{"mark":{"type":"point","filled":true,"strokeWidth":2.2,"size":180,"opacity":1},"encoding":{
"x":{"field":"x","type":"quantitative","axis":null},"y":{"field":"y","type":"quantitative","axis":null},
"stroke":{"field":"m","type":"nominal","scale":{"domain":["HEVC","HEVC SCC","K-MMSE","SK-MMSE"],"range":["#000000","#7E2F8E","#4DBEEE","#FF0000"]},"legend":null},
"fill":{"field":"m","type":"nominal","scale":{"domain":["HEVC","HEVC SCC","K-MMSE","SK-MMSE"],"range":["transparent","transparent","transparent","#FF0000"]},"legend":null},
"shape":{"field":"m","type":"nominal","scale":{"domain":["HEVC","HEVC SCC","K-MMSE","SK-MMSE"],"range":["M-0.85,-0.85H0.85V0.85H-0.85Z","M0,-1.05L1.2,1L-1.2,1Z","M-1,0H1M0,-1V1","M0,-0.9L0.65,0L0,0.9L-0.65,0Z"]},"legend":null}}},
{"transform":[{"filter":"datum.x<0"}],"mark":{"type":"point","filled":false,"strokeWidth":2.5,"size":2500,"opacity":1},"encoding":{
"x":{"field":"x","type":"quantitative","axis":{"orient":"top","labels":false,"title":null,"values":[0,0.5,1,1.5]}},
"y":{"field":"y","type":"quantitative","axis":{"orient":"right","labels":false,"title":null,"values":[30,32,34,36,38,40,42]}},
"stroke":{"field":"m","type":"nominal","scale":{"domain":["HEVC","HEVC SCC","K-MMSE","SK-MMSE"],"range":["#000000","#7E2F8E","#4DBEEE","#FF0000"]},"legend":{"title":null}},
"shape":{"field":"m","type":"nominal","scale":{"domain":["HEVC","HEVC SCC","K-MMSE","SK-MMSE"],"range":["M-1,0H-0.25M0.25,0H1M-0.25,-0.25H0.25V0.25H-0.25Z","M-1,0H1M0,-0.28L0.32,0.26H-0.32Z","M-1,0H1M0,-0.26V0.26","M-1,0H1M0,-0.22L0.15,0L0,0.22L-0.15,0Z"]},"legend":{"title":null}}}}
],
"resolve":{"scale":{"stroke":"independent","fill":"independent","shape":"independent"},"axis":{"x":"independent","y":"independent"}}},

{"width":554,"height":454,"title":"(k)","data":{"name":"rd"},"transform":[{"filter":"datum.p=='k'"}],
"layer":[
{"mark":{"type":"line","strokeWidth":3},"encoding":{
"x":{"field":"x","type":"quantitative","scale":{"domain":[0,0.8],"nice":false,"zero":false},"axis":{"values":[0,0.2,0.4,0.6,0.8],"title":"[bpp]"}},
"y":{"field":"y","type":"quantitative","scale":{"domain":[34,44],"nice":false,"zero":false},"axis":{"values":[34,36,38,40,42,44],"title":"Y-PSNR(dB)"}},
"stroke":{"field":"m","type":"nominal","scale":{"domain":["HEVC","HEVC SCC","K-MMSE","SK-MMSE"],"range":["#000000","#7E2F8E","#4DBEEE","#FF0000"]},"legend":null}}},
{"mark":{"type":"point","filled":true,"strokeWidth":2.2,"size":180,"opacity":1},"encoding":{
"x":{"field":"x","type":"quantitative","axis":null},"y":{"field":"y","type":"quantitative","axis":null},
"stroke":{"field":"m","type":"nominal","scale":{"domain":["HEVC","HEVC SCC","K-MMSE","SK-MMSE"],"range":["#000000","#7E2F8E","#4DBEEE","#FF0000"]},"legend":null},
"fill":{"field":"m","type":"nominal","scale":{"domain":["HEVC","HEVC SCC","K-MMSE","SK-MMSE"],"range":["transparent","transparent","transparent","#FF0000"]},"legend":null},
"shape":{"field":"m","type":"nominal","scale":{"domain":["HEVC","HEVC SCC","K-MMSE","SK-MMSE"],"range":["M-0.85,-0.85H0.85V0.85H-0.85Z","M0,-1.05L1.2,1L-1.2,1Z","M-1,0H1M0,-1V1","M0,-0.9L0.65,0L0,0.9L-0.65,0Z"]},"legend":null}}},
{"transform":[{"filter":"datum.x<0"}],"mark":{"type":"point","filled":false,"strokeWidth":2.5,"size":2500,"opacity":1},"encoding":{
"x":{"field":"x","type":"quantitative","axis":{"orient":"top","labels":false,"title":null,"values":[0,0.2,0.4,0.6,0.8]}},
"y":{"field":"y","type":"quantitative","axis":{"orient":"right","labels":false,"title":null,"values":[34,36,38,40,42,44]}},
"stroke":{"field":"m","type":"nominal","scale":{"domain":["HEVC","HEVC SCC","K-MMSE","SK-MMSE"],"range":["#000000","#7E2F8E","#4DBEEE","#FF0000"]},"legend":{"title":null}},
"shape":{"field":"m","type":"nominal","scale":{"domain":["HEVC","HEVC SCC","K-MMSE","SK-MMSE"],"range":["M-1,0H-0.25M0.25,0H1M-0.25,-0.25H0.25V0.25H-0.25Z","M-1,0H1M0,-0.28L0.32,0.26H-0.32Z","M-1,0H1M0,-0.26V0.26","M-1,0H1M0,-0.22L0.15,0L0,0.22L-0.15,0Z"]},"legend":{"title":null}}}}
],
"resolve":{"scale":{"stroke":"independent","fill":"independent","shape":"independent"},"axis":{"x":"independent","y":"independent"}}},

{"width":554,"height":454,"title":"(l)","data":{"name":"rd"},"transform":[{"filter":"datum.p=='l'"}],
"layer":[
{"mark":{"type":"line","strokeWidth":3},"encoding":{
"x":{"field":"x","type":"quantitative","scale":{"domain":[0,1.5],"nice":false,"zero":false},"axis":{"values":[0,0.5,1,1.5],"title":"[bpp]"}},
"y":{"field":"y","type":"quantitative","scale":{"domain":[32,42],"nice":false,"zero":false},"axis":{"values":[32,34,36,38,40,42],"title":"Y-PSNR(dB)"}},
"stroke":{"field":"m","type":"nominal","scale":{"domain":["HEVC","HEVC SCC","K-MMSE","SK-MMSE"],"range":["#000000","#7E2F8E","#4DBEEE","#FF0000"]},"legend":null}}},
{"mark":{"type":"point","filled":true,"strokeWidth":2.2,"size":180,"opacity":1},"encoding":{
"x":{"field":"x","type":"quantitative","axis":null},"y":{"field":"y","type":"quantitative","axis":null},
"stroke":{"field":"m","type":"nominal","scale":{"domain":["HEVC","HEVC SCC","K-MMSE","SK-MMSE"],"range":["#000000","#7E2F8E","#4DBEEE","#FF0000"]},"legend":null},
"fill":{"field":"m","type":"nominal","scale":{"domain":["HEVC","HEVC SCC","K-MMSE","SK-MMSE"],"range":["transparent","transparent","transparent","#FF0000"]},"legend":null},
"shape":{"field":"m","type":"nominal","scale":{"domain":["HEVC","HEVC SCC","K-MMSE","SK-MMSE"],"range":["M-0.85,-0.85H0.85V0.85H-0.85Z","M0,-1.05L1.2,1L-1.2,1Z","M-1,0H1M0,-1V1","M0,-0.9L0.65,0L0,0.9L-0.65,0Z"]},"legend":null}}},
{"transform":[{"filter":"datum.x<0"}],"mark":{"type":"point","filled":false,"strokeWidth":2.5,"size":2500,"opacity":1},"encoding":{
"x":{"field":"x","type":"quantitative","axis":{"orient":"top","labels":false,"title":null,"values":[0,0.5,1,1.5]}},
"y":{"field":"y","type":"quantitative","axis":{"orient":"right","labels":false,"title":null,"values":[32,34,36,38,40,42]}},
"stroke":{"field":"m","type":"nominal","scale":{"domain":["HEVC","HEVC SCC","K-MMSE","SK-MMSE"],"range":["#000000","#7E2F8E","#4DBEEE","#FF0000"]},"legend":{"title":null}},
"shape":{"field":"m","type":"nominal","scale":{"domain":["HEVC","HEVC SCC","K-MMSE","SK-MMSE"],"range":["M-1,0H-0.25M0.25,0H1M-0.25,-0.25H0.25V0.25H-0.25Z","M-1,0H1M0,-0.28L0.32,0.26H-0.32Z","M-1,0H1M0,-0.26V0.26","M-1,0H1M0,-0.22L0.15,0L0,0.22L-0.15,0Z"]},"legend":{"title":null}}}}
],
"resolve":{"scale":{"stroke":"independent","fill":"independent","shape":"independent"},"axis":{"x":"independent","y":"independent"}}}
],
"config": {
"view": {"stroke": "black", "strokeWidth": 1.5},
"numberFormat": "~g",
"axis": {"domain": false, "grid": false, "ticks": true, "tickColor": "black", "tickWidth": 1.3, "tickSize": -8,
"labelFont": "Liberation Sans", "labelFontSize": 26, "labelColor": "black", "labelFlush": false, "labelOverlap": false, "labelBound": false,
"titleFont": "Liberation Sans", "titleFontSize": 28, "titleFontWeight": "normal", "titleColor": "black"},
"axisX": {"labelPadding": 12, "titlePadding": 10, "titleFontSize": 28},
"axisY": {"labelPadding": 14, "titlePadding": 4, "titleFontSize": 30},
"title": {"orient": "bottom", "font": "Liberation Serif", "fontSize": 36, "fontWeight": "normal", "color": "black", "offset": 20},
"legend": {"orient": "bottom-right", "offset": 8, "padding": 8, "strokeColor": "black", "fillColor": "white",
"labelFont": "Liberation Sans", "labelFontSize": 28, "labelColor": "black", "labelOffset": 8, "labelLimit": 400,
"clipHeight": 28, "rowPadding": 10, "symbolSize": 2500, "symbolStrokeWidth": 2.5}
}
}
